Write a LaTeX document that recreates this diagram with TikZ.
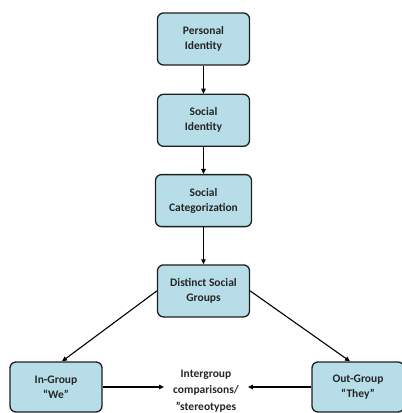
\documentclass[tikz,border=0pt]{standalone}
\usepackage{fontspec}
\setmainfont{Carlito}
\usepackage{xcolor}
\usetikzlibrary{arrows.meta,positioning}

\definecolor{boxblue}{RGB}{183,221,232}
\definecolor{boxline}{RGB}{30,30,30}

\begin{document}
\begin{tikzpicture}[
  x=1pt, y=1pt,
  font=\fontsize{11.5}{15}\selectfont\bfseries,
  box/.style={draw=boxline, line width=1.3pt, rounded corners=6pt,
              fill=boxblue, minimum width=92pt, minimum height=52pt,
              align=center, text=black!85},
  arr/.style={-{Triangle[length=5pt,width=4.5pt]}, line width=1.1pt},
]
\useasboundingbox (0,0) rectangle (402,-413);

%% --- Nodes ---
\node[box] (personal) at (203.5,-39) {Personal\\Identity};
\node[box, below=28pt of personal] (social) {Social\\Identity};
\node[box, below=27pt of social, minimum width=96pt] (categ)
      {Social\\Categorization};
\node[box, below=37pt of categ] (distinct) {Distinct Social\\Groups};

\node[box, minimum height=50pt] (ingroup)  at (56,-387)  {In-Group\\“We”};
\node[box, minimum height=50pt] (outgroup) at (358,-387) {Out-Group\\“They”};

\node[align=center, inner xsep=9pt, font=\fontsize{11.5}{16.5}\selectfont\bfseries,
      text=black!85] (compare) at (206,-391)
      {Intergroup\\comparisons/\\”stereotypes};

%% --- Arrows ---
\draw[arr] (personal) -- (social);
\draw[arr] (social)   -- (categ);
\draw[arr] (categ)    -- (distinct);
\draw[arr] (distinct.west) -- ([xshift=6pt]ingroup.north);
\draw[arr] (distinct.east) -- ([xshift=-8pt]outgroup.north);
\draw[arr] (ingroup.east)  -- (ingroup.east -| compare.west);
\draw[arr] (outgroup.west) -- (outgroup.west -| compare.east);

\end{tikzpicture}
\end{document}
